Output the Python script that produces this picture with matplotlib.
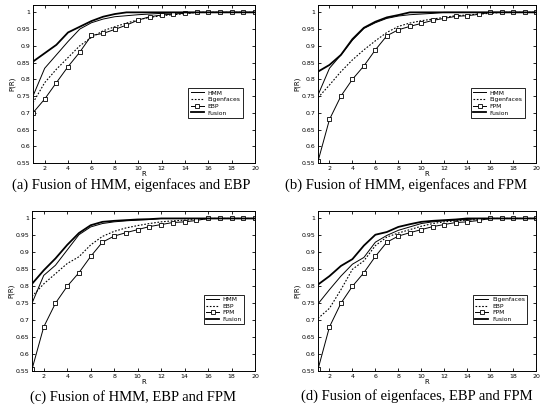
import matplotlib
matplotlib.use("Agg")
import matplotlib.pyplot as plt
import numpy as np

# rangos R = 1..20
ranks = np.arange(1, 21)

# curva FPM (comun a b, c, d)
fpm = [0.555, 0.68, 0.75, 0.80, 0.84, 0.888, 0.93, 0.948, 0.958, 0.967,
       0.976, 0.982, 0.988, 0.99, 0.994, 1, 1, 1, 1, 1]

# (a) HMM, eigenfaces, EBP
hmm_a = [0.75, 0.833, 0.873, 0.913, 0.95, 0.969, 0.98, 0.987, 0.99, 0.993,
         0.995, 0.997, 0.998, 1, 1, 1, 1, 1, 1, 1]
eig_a = [0.73, 0.79, 0.83, 0.865, 0.90, 0.925, 0.945, 0.957, 0.968, 0.978,
         0.985, 0.99, 0.993, 0.996, 1, 1, 1, 1, 1, 1]
ebp_a = [0.70, 0.741, 0.79, 0.838, 0.881, 0.931, 0.937, 0.949, 0.962, 0.977,
         0.987, 0.992, 0.995, 0.997, 1, 1, 1, 1, 1, 1]
fus_a = [0.853, 0.878, 0.903, 0.94, 0.957, 0.974, 0.987, 0.995, 1, 1,
         1, 1, 1, 1, 1, 1, 1, 1, 1, 1]

# (b) HMM, eigenfaces, FPM
hmm_b = [0.753, 0.833, 0.873, 0.917, 0.952, 0.969, 0.982, 0.989, 0.993, 0.995,
         0.997, 1, 1, 1, 1, 1, 1, 1, 1, 1]
eig_b = [0.745, 0.783, 0.823, 0.858, 0.888, 0.915, 0.94, 0.958, 0.968, 0.975,
         0.98, 0.985, 0.99, 0.992, 0.995, 0.997, 1, 1, 1, 1]
fus_b = [0.823, 0.843, 0.873, 0.92, 0.954, 0.972, 0.985, 0.992, 1, 1,
         1, 1, 1, 1, 1, 1, 1, 1, 1, 1]

# (c) HMM, EBP, FPM
hmm_c = [0.75, 0.832, 0.862, 0.907, 0.952, 0.975, 0.985, 0.99, 0.993, 0.995,
         0.997, 1, 1, 1, 1, 1, 1, 1, 1, 1]
ebp_c = [0.77, 0.807, 0.837, 0.867, 0.887, 0.922, 0.947, 0.962, 0.972, 0.979,
         0.985, 0.99, 0.993, 0.995, 0.997, 1, 1, 1, 1, 1]
fus_c = [0.807, 0.847, 0.882, 0.922, 0.957, 0.98, 0.99, 0.993, 0.995, 0.997,
         0.998, 1, 1, 1, 1, 1, 1, 1, 1, 1]

# (d) eigenfaces, EBP, FPM
eig_d = [0.748, 0.79, 0.83, 0.865, 0.885, 0.93, 0.95, 0.965, 0.975, 0.985,
         0.99, 0.993, 0.995, 0.997, 1, 1, 1, 1, 1, 1]
ebp_d = [0.705, 0.735, 0.79, 0.85, 0.875, 0.92, 0.945, 0.957, 0.967, 0.977,
         0.985, 0.99, 0.993, 0.995, 0.997, 1, 1, 1, 1, 1]
fus_d = [0.805, 0.83, 0.86, 0.88, 0.92, 0.952, 0.96, 0.975, 0.983, 0.99,
         0.993, 0.995, 0.997, 1, 1, 1, 1, 1, 1, 1]

yticks = [0.55, 0.6, 0.65, 0.7, 0.75, 0.8, 0.85, 0.9, 0.95, 1]
ytick_labels = ["0.55", "0.6", "0.65", "0.7", "0.75", "0.8", "0.85", "0.9", "0.95", "1"]
xticks = [2, 4, 6, 8, 10, 12, 14, 16, 18, 20]

# estilos: 1a solida, 2a punteada, 3a con cuadrados, 4a (fusion) gruesa
estilos = [
    dict(color="black", lw=0.7, ls="-"),
    dict(color="black", lw=0.8, ls=(0, (1.5, 1.5))),
    dict(color="black", lw=0.7, ls="-", marker="s", ms=3.0,
         mfc="white", mec="black", mew=0.6),
    dict(color="black", lw=1.3, ls="-"),
]


def panel(rect, series, nombres, leg_xy, titulo, cap_xy):
    ax = fig.add_axes(rect)
    for s, nom, est in zip(series, nombres, estilos):
        ax.plot(ranks, s, label=nom, **est)
    ax.set_xlim(1, 20)
    ax.set_ylim(0.55, 1.022)
    ax.set_xticks(xticks)
    ax.set_yticks(yticks)
    ax.set_yticklabels(ytick_labels)
    ax.tick_params(direction="in", length=2.5, width=0.6, labelsize=4.5,
                   top=True, right=True, pad=2, colors="black")
    for sp in ax.spines.values():
        sp.set_linewidth(0.7)
    ax.set_xlabel("R", fontsize=5, labelpad=0.5)
    ax.set_ylabel("P(R)", fontsize=5, labelpad=1)
    leg = ax.legend(loc="upper left", bbox_to_anchor=leg_xy, borderaxespad=0,
                    fontsize=4.3, handlelength=2.2, handletextpad=0.6,
                    labelspacing=0.25, borderpad=0.4, fancybox=False,
                    framealpha=1, edgecolor="black")
    leg.get_frame().set_linewidth(0.6)
    fig.text(cap_xy[0] / W, 1 - cap_xy[1] / H, titulo, ha="center",
             va="center", family="Liberation Serif", fontsize=10.5)
    return ax


W, H = 541, 411
fig = plt.figure(figsize=(W / 100, H / 100), dpi=100)
fig.patch.set_facecolor("white")

top_row = (1 - 163 / H, 158 / H)
bot_row = (1 - 371 / H, 160 / H)

panel([33 / W, top_row[0], 222 / W, top_row[1]],
      [hmm_a, eig_a, ebp_a, fus_a], ["HMM", "Eigenfaces", "EBP", "Fusion"],
      (0.70, 0.475), "(a) Fusion of HMM, eigenfaces and EBP", (131, 185))
panel([318 / W, top_row[0], 218 / W, top_row[1]],
      [hmm_b, eig_b, fpm, fus_b], ["HMM", "Eigenfaces", "FPM", "Fusion"],
      (0.70, 0.475), "(b) Fusion of HMM, eigenfaces and FPM", (406, 185))
panel([32 / W, bot_row[0], 223 / W, bot_row[1]],
      [hmm_c, ebp_c, fpm, fus_c], ["HMM", "EBP", "FPM", "Fusion"],
      (0.77, 0.478), "(c) Fusion of HMM, EBP and FPM", (133, 397))
panel([318 / W, bot_row[0], 218 / W, bot_row[1]],
      [eig_d, ebp_d, fpm, fus_d], ["Eigenfaces", "EBP", "FPM", "Fusion"],
      (0.71, 0.478), "(d) Fusion of eigenfaces, EBP and FPM", (417, 396))

fig.savefig("out.png", dpi=100, facecolor="white")
